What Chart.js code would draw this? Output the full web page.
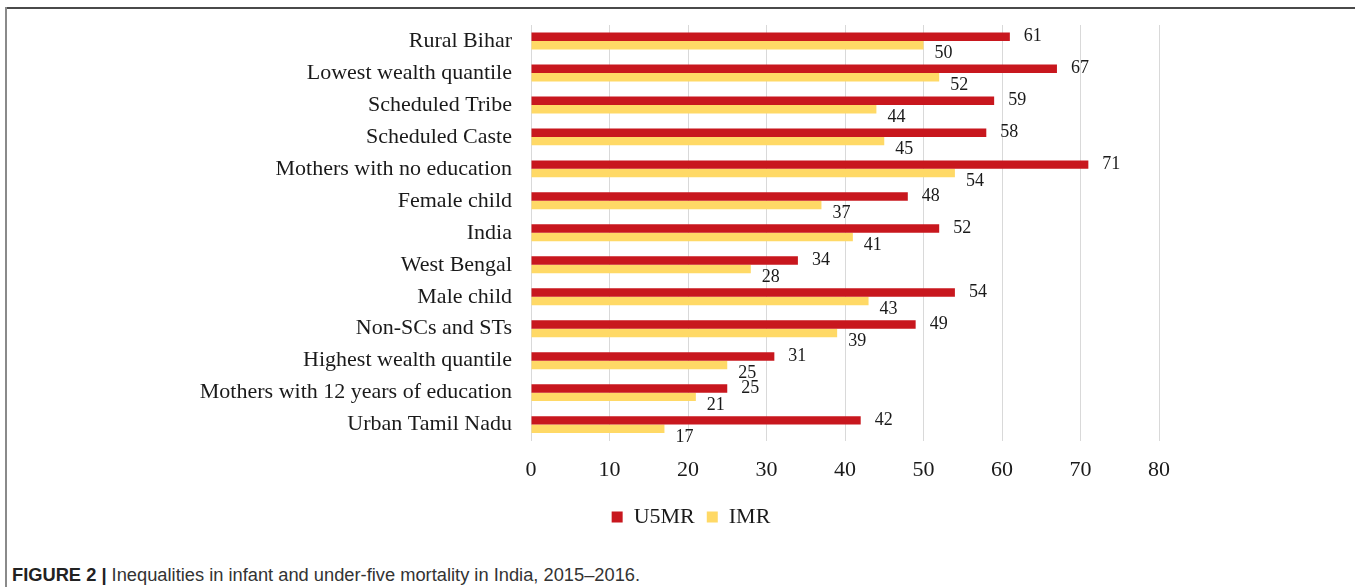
<!DOCTYPE html>
<html>
<head>
<meta charset="utf-8">
<script src="https://cdn.jsdelivr.net/npm/chart.js@4"></script>
<style>
  html, body { margin: 0; padding: 0; background: #fff; }
  body { width: 1355px; height: 587px; position: relative; overflow: hidden; }
  .frame-top { position: absolute; left: 5px; top: 7px; width: 1350px; height: 2px; background: #4a4a4a; }
  .frame-left { position: absolute; left: 5px; top: 7px; width: 2px; height: 580px; background: #8a8a8a; }
  #wrap { position: absolute; left: 0; top: 0; width: 1355px; height: 545px; }
  .caption {
    position: absolute; left: 12px; top: 564px;
    font-family: "Liberation Sans Narrow", "Liberation Sans", Arial, sans-serif;
    font-stretch: condensed; font-size: 18.3px; color: #333; white-space: nowrap;
  }
  .caption b { color: #222; }
</style>
</head>
<body>
<div class="frame-top"></div>
<div class="frame-left"></div>
<div id="wrap"><canvas id="c"></canvas></div>
<div class="caption"><b>FIGURE 2 |</b> Inequalities in infant and under-five mortality in India, 2015–2016.</div>

<script>
/* ---------- data ---------- */
const groups = [
  'Rural Bihar', 'Lowest wealth quantile', 'Scheduled Tribe', 'Scheduled Caste',
  'Mothers with no education', 'Female child', 'India', 'West Bengal', 'Male child',
  'Non-SCs and STs', 'Highest wealth quantile', 'Mothers with 12 years of education',
  'Urban Tamil Nadu'
];
const u5mr = [61, 67, 59, 58, 71, 48, 52, 34, 54, 49, 31, 25, 42];
const imr  = [50, 52, 44, 45, 54, 37, 41, 28, 43, 39, 25, 21, 17];
const xTicks = [0, 10, 20, 30, 40, 50, 60, 70, 80];

const SERIF = '"Liberation Serif", "Times New Roman", serif';
const RED = '#C8171E', YELLOW = '#FFD966';
const PAD_LEFT = 180;

/* value labels next to bar ends (red a bit above, yellow dropped below) */
const barLabels = {
  id: 'barLabels',
  afterDatasetsDraw(chart) {
    const ctx = chart.ctx;
    ctx.save();
    ctx.font = '18px ' + SERIF;
    ctx.fillStyle = '#1a1a1a';
    ctx.textAlign = 'left';
    ctx.textBaseline = 'middle';
    chart.data.datasets.forEach((ds, di) => {
      chart.getDatasetMeta(di).data.forEach((bar, i) => {
        const dx = di === 0 ? 14 : 11;
        const dy = di === 0 ? 0 : 8;
        ctx.fillText(String(ds.data[i]), bar.x + dx, bar.y + dy);
      });
    });
    ctx.restore();
  }
};

// excel centres the legend a bit right of where chart.js puts it
const legendNudge = {
  id: 'legendNudge',
  afterLayout(chart) {
    const lg = chart.legend;
    if (!lg) return;
    const d = 691 - (lg.left + lg.right) / 2;
    lg.left += d; lg.right += d;
  }
};

new Chart(document.getElementById('c'), {
  type: 'bar',
  data: {
    labels: groups,
    datasets: [
      { label: 'U5MR', data: u5mr, backgroundColor: RED, borderWidth: 0 },
      { label: 'IMR',  data: imr,  backgroundColor: YELLOW, borderWidth: 0 }
    ]
  },
  options: {
    indexAxis: 'y',
    responsive: true,
    maintainAspectRatio: false,
    animation: false,
    datasets: { bar: { barPercentage: 1, categoryPercentage: 0.53 } },
    layout: { padding: { left: PAD_LEFT, right: 196, top: 25, bottom: 7 } },
    scales: {
      x: {
        min: 0, max: 80,
        afterBuildTicks: s => { s.ticks = xTicks.map(v => ({ value: v })); },
        afterFit: s => { s.height -= 5; },
        grid: { color: '#d9d9d9', drawTicks: false },
        border: { display: false },
        ticks: { color: '#1a1a1a', padding: 16, font: { family: SERIF, size: 22 } }
      },
      y: {
        afterFit: s => { s.width = 531 - PAD_LEFT; s.paddingTop = 0; s.paddingBottom = 0; },
        grid: { display: false, drawTicks: false },
        border: { display: false },
        ticks: { color: '#1a1a1a', padding: 19, autoSkip: false, font: { family: SERIF, size: 22 } }
      }
    },
    plugins: {
      legend: {
        position: 'bottom',
        labels: {
          color: '#1a1a1a', boxWidth: 11, boxHeight: 11, padding: 12,
          font: { family: SERIF, size: 22 }
        }
      },
      tooltip: { enabled: false }
    }
  },
  plugins: [barLabels, legendNudge]
});
</script>
</body>
</html>
